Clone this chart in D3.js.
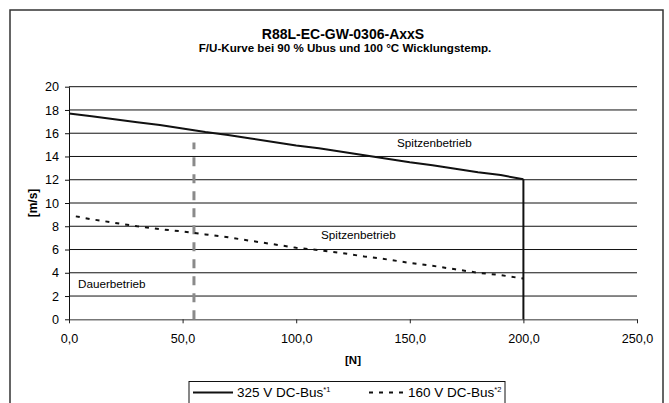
<!DOCTYPE html>
<html>
<head>
<meta charset="utf-8">
<script src="https://cdn.jsdelivr.net/npm/d3@7"></script>
<style>
  body { margin: 0; background: #fff; }
  svg { display: block; font-family: "Liberation Sans", Arial, sans-serif; }
</style>
</head>
<body>
<svg id="chart" width="669" height="403"></svg>
<script>
// chart data
var forceN = [0, 10, 20, 30, 40, 50, 60, 70, 80, 90, 100, 110, 120, 130, 140, 150, 160, 170, 180, 190, 200];
var speed325 = [17.7, 17.45, 17.2, 16.95, 16.7, 16.4, 16.1, 15.85, 15.55, 15.25, 14.95, 14.7, 14.4, 14.1, 13.8, 13.5, 13.25, 12.95, 12.65, 12.4, 12.05];
var force160 = [3, 10, 20, 30, 40, 50, 60, 70, 80, 90, 100, 110, 120, 130, 140, 150, 160, 170, 180, 190, 200];
var speed160 = [8.85, 8.6, 8.3, 8.0, 7.75, 7.55, 7.3, 7.05, 6.75, 6.45, 6.15, 5.95, 5.7, 5.4, 5.15, 4.85, 4.6, 4.3, 4.0, 3.8, 3.5];
var xTicks = [0, 50, 100, 150, 200, 250];
var yTicks = [0, 2, 4, 6, 8, 10, 12, 14, 16, 18, 20];
var contForce = 55, contSpeedTop = 15.2;   // Dauerbetrieb limit
var peakForce = 200;                        // Spitzenbetrieb limit
var seriesNames = ['325 V DC-Bus', '160 V DC-Bus'];
var seriesSup = ['*1', '*2'];

var svg = d3.select('#chart');

var x = d3.scaleLinear().domain([0, 250]).range([69, 637]);
var y = d3.scaleLinear().domain([0, 20]).range([319.3, 86.7]);

// outer frame
svg.append('rect')
    .attr('x', 10).attr('y', 10)
    .attr('width', 653).attr('height', 410)
    .attr('fill', 'none')
    .attr('stroke', '#333')
    .attr('stroke-width', 1.5);

// titles
svg.append('text')
    .attr('x', 343).attr('y', 38.5)
    .attr('text-anchor', 'middle')
    .style('font-weight', 'bold').style('font-size', '14px')
    .text('R88L-EC-GW-0306-AxxS');
svg.append('text')
    .attr('x', 345).attr('y', 51.5)
    .attr('text-anchor', 'middle')
    .style('font-weight', 'bold').style('font-size', '11.6px')
    .text('F/U-Kurve bei 90 % Ubus und 100 °C Wicklungstemp.');

// gridlines
svg.append('g').selectAll('line')
    .data(yTicks.filter(function (d) { return d > 0; }))
    .enter().append('line')
    .attr('x1', x(0)).attr('x2', x(250))
    .attr('y1', function (d) { return y(d); })
    .attr('y2', function (d) { return y(d); })
    .attr('stroke', '#111')
    .attr('stroke-width', 1);

// axes
var xAxis = svg.append('g')
    .attr('transform', 'translate(0,' + y(0) + ')')
    .call(d3.axisBottom(x).tickValues(xTicks).tickSize(4).tickSizeOuter(0)
        .tickFormat(function (d) { return d3.format('.1f')(d).replace('.', ','); }));
xAxis.select('.domain').attr('stroke', '#777').attr('stroke-width', 1.5);
xAxis.selectAll('.tick line').attr('stroke', '#222');
xAxis.selectAll('text').attr('dy', null).attr('y', 23.4)
    .style('font-size', '12.6px').style('font-family', '"Liberation Sans", Arial, sans-serif');

var yAxis = svg.append('g')
    .attr('transform', 'translate(' + x(0) + ',0)')
    .call(d3.axisLeft(y).tickValues(yTicks).tickSize(4).tickSizeOuter(0));
yAxis.select('.domain').attr('stroke', '#111');
yAxis.selectAll('.tick line').attr('stroke', '#111');
yAxis.selectAll('text').attr('x', -10)
    .style('font-size', '12.6px').style('font-family', '"Liberation Sans", Arial, sans-serif');

// axis titles
svg.append('text')
    .attr('x', 353).attr('y', 363.5)
    .attr('text-anchor', 'middle')
    .style('font-weight', 'bold').style('font-size', '11.5px')
    .text('[N]');
svg.append('text')
    .attr('transform', 'translate(37,203) rotate(-90)')
    .attr('text-anchor', 'middle')
    .style('font-weight', 'bold').style('font-size', '12px')
    .text('[m/s]');

// continuous operation limit (grey dashed)
svg.append('line')
    .attr('x1', x(contForce)).attr('x2', x(contForce))
    .attr('y1', y(0)).attr('y2', y(contSpeedTop))
    .attr('stroke', '#8a8a8a')
    .attr('stroke-width', 3)
    .attr('stroke-dasharray', '9,8');

// peak operation limit
svg.append('line')
    .attr('x1', x(peakForce)).attr('x2', x(peakForce))
    .attr('y1', y(0)).attr('y2', y(speed325[speed325.length - 1]))
    .attr('stroke', '#111')
    .attr('stroke-width', 2);

var line = d3.line()
    .x(function (d) { return x(d[0]); })
    .y(function (d) { return y(d[1]); });

svg.append('path')
    .datum(d3.zip(forceN, speed325))
    .attr('d', line)
    .attr('fill', 'none')
    .attr('stroke', '#111')
    .attr('stroke-width', 2);

svg.append('path')
    .datum(d3.zip(force160, speed160))
    .attr('d', line)
    .attr('fill', 'none')
    .attr('stroke', '#111')
    .attr('stroke-width', 2)
    .attr('stroke-dasharray', '4,6');

// region labels
function label(tx, ty, s) {
    svg.append('text')
        .attr('x', tx).attr('y', ty)
        .style('font-size', '11.7px')
        .text(s);
}
label(397, 147, 'Spitzenbetrieb');
label(321, 239, 'Spitzenbetrieb');
label(78, 288, 'Dauerbetrieb');

// legend
var legend = svg.append('g');
legend.append('rect')
    .attr('x', 189).attr('y', 381.5)
    .attr('width', 316).attr('height', 22)
    .attr('fill', '#fff')
    .attr('stroke', '#111')
    .attr('stroke-width', 1);

var legendItems = [
    { x1: 193, x2: 233, tx: 237, dash: null },
    { x1: 369, x2: 405, tx: 408, dash: '4,6' }
];
legendItems.forEach(function (it, i) {
    legend.append('line')
        .attr('x1', it.x1).attr('x2', it.x2)
        .attr('y1', 392.5).attr('y2', 392.5)
        .attr('stroke', '#111')
        .attr('stroke-width', 2)
        .attr('stroke-dasharray', it.dash);
    var t = legend.append('text')
        .attr('x', it.tx).attr('y', 397)
        .style('font-size', '13.5px');
    t.append('tspan').text(seriesNames[i]);
    t.append('tspan').attr('dy', -5).style('font-size', '7.5px').text(seriesSup[i]);
});
</script>
</body>
</html>
